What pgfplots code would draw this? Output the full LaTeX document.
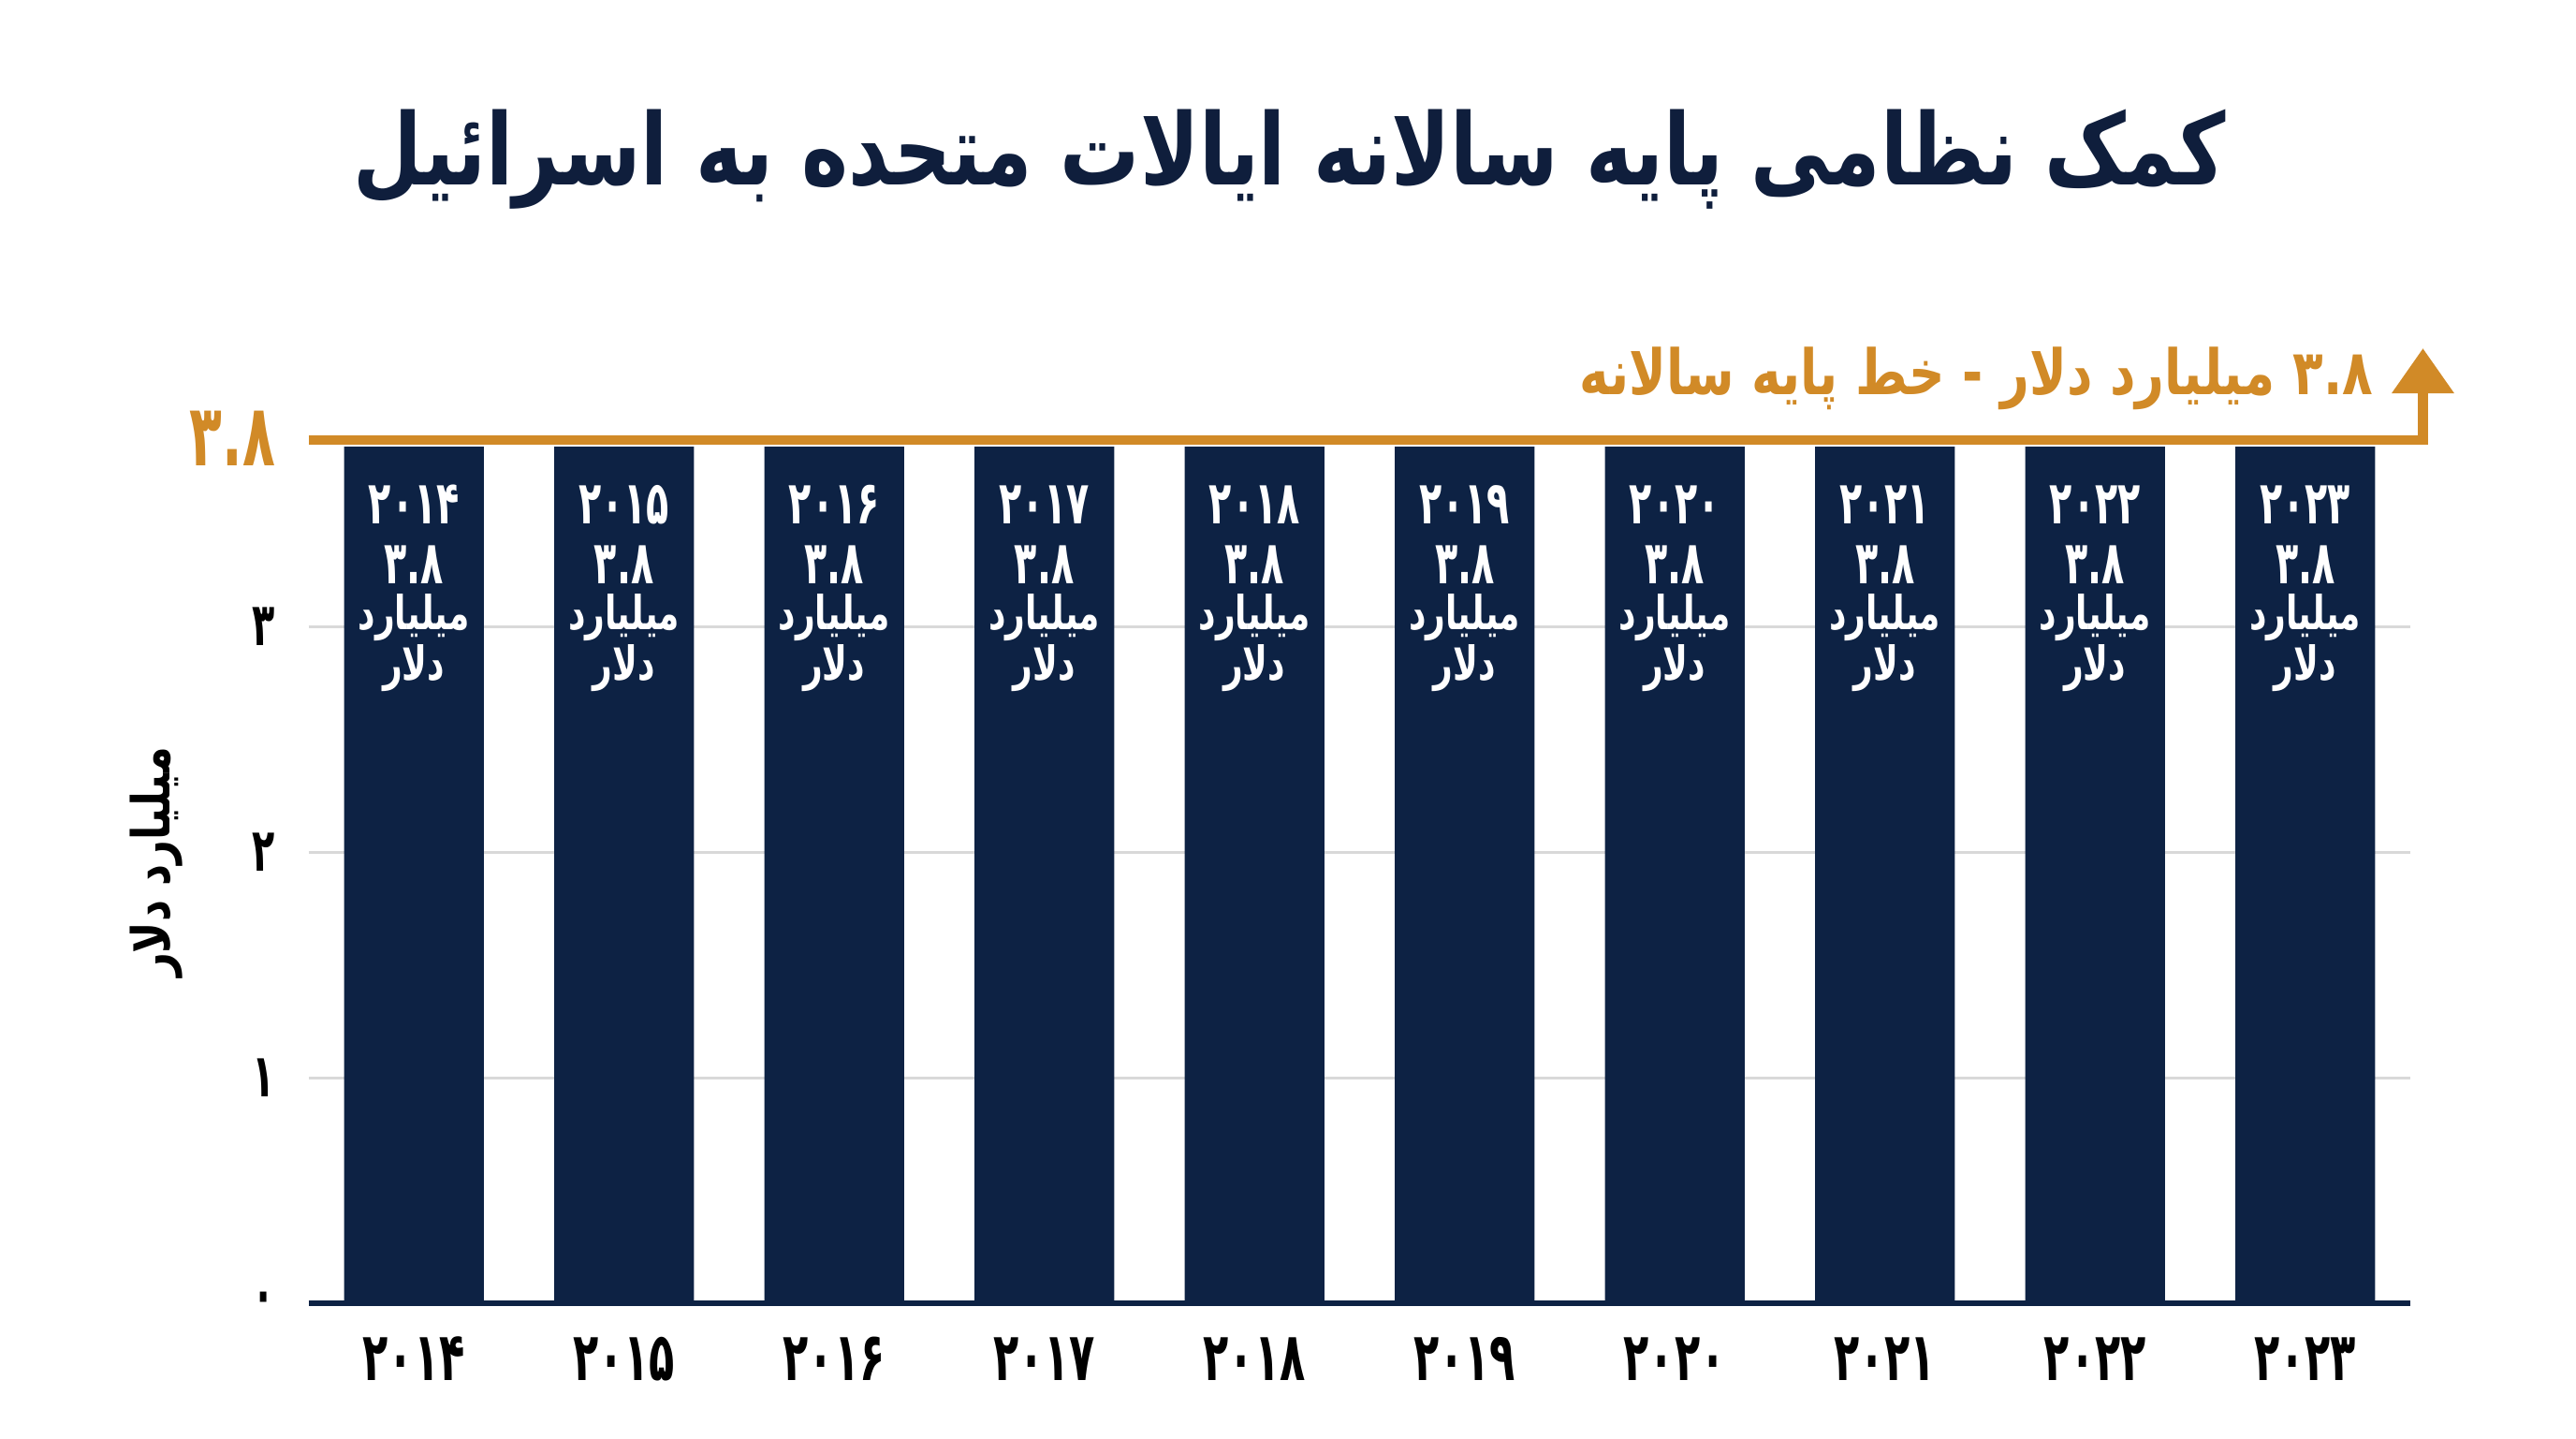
\documentclass[border=0pt]{standalone}
\usepackage{fontspec}
\usepackage{pgfplots}
\pgfplotsset{compat=1.18}
\usetikzlibrary{arrows.meta}
\TeXXeTstate=1
\newfontfamily\fa[Script=Arabic,FakeStretch=0.8]{DejaVu Sans}
\newfontfamily\fanarrow[Script=Arabic,FakeStretch=0.72]{DejaVu Sans}
\newfontfamily\fanum[Script=Arabic,FakeStretch=0.62]{DejaVu Sans}
\definecolor{navy}{HTML}{0D2244}
\definecolor{gold}{HTML}{D18A27}
\definecolor{titlenavy}{HTML}{0F1E3C}
\newcommand{\R}[1]{\beginR #1\endR}
\newcommand{\barnum}{\fanum\bfseries\fontsize{16}{16}\selectfont}
\newcommand{\bartxt}{\fanarrow\bfseries\fontsize{12.5}{12.5}\selectfont}
\newcommand{\barlab}[2]{%
  \node[white, font=\barnum, anchor=base, inner sep=0pt] at ([yshift=-20.5pt]axis cs:#1,3.8) {#2};
  \node[white, font=\barnum, anchor=base, inner sep=0pt] at ([yshift=-36.5pt]axis cs:#1,3.8) {۳.۸};
  \node[white, font=\bartxt, anchor=base, inner sep=0pt] at ([yshift=-48.75pt]axis cs:#1,3.8) {\R{میلیارد}};
  \node[white, font=\bartxt, anchor=base, inner sep=0pt] at ([yshift=-62.25pt]axis cs:#1,3.8) {\R{دلار}};}
\begin{document}
\begin{tikzpicture}
\useasboundingbox (-82.5pt,-36pt) rectangle (605.5pt,348pt);
\begin{axis}[
  at={(0pt,0pt)}, anchor=south west,
  width=561.25pt, height=228.75pt, scale only axis,
  xmin=-0.5, xmax=9.5, ymin=0, ymax=3.8,
  axis x line*=bottom, axis y line*=left,
  y axis line style={draw=none},
  x axis line style={draw=navy, line width=1.3pt},
  major tick length=0pt,
  xtick={0,1,2,3,4,5,6,7,8,9},
  xticklabels={۲۰۱۴,۲۰۱۵,۲۰۱۶,۲۰۱۷,۲۰۱۸,۲۰۱۹,۲۰۲۰,۲۰۲۱,۲۰۲۲,۲۰۲۳},
  ytick={0,1,2,3},
  yticklabels={۰,۱,۲,۳},
  ymajorgrids,
  grid style={draw=black!15, line width=0.8pt},
  xticklabel style={font=\fanum\bfseries\fontsize{18}{18}\selectfont, anchor=base, inner sep=0pt, yshift=-20.5pt, text=black},
  yticklabel style={font=\fanum\bfseries\fontsize{16}{16}\selectfont, anchor=east, inner sep=0pt, xshift=-8.75pt, text=black},
  clip=false,
]
\addplot[ybar, bar width=37.3pt, fill=navy, draw=none] coordinates {
  (0,3.8) (1,3.8) (2,3.8) (3,3.8) (4,3.8) (5,3.8) (6,3.8) (7,3.8) (8,3.8) (9,3.8)};
\draw[gold, line width=2.6pt, -{Triangle[length=12pt,width=16pt]}]
  ([yshift=1.75pt]axis cs:-0.5,3.8) -- ([yshift=1.75pt]axis cs:9.56,3.8) -- (axis cs:9.56,4.236);
\barlab{0}{۲۰۱۴}
\barlab{1}{۲۰۱۵}
\barlab{2}{۲۰۱۶}
\barlab{3}{۲۰۱۷}
\barlab{4}{۲۰۱۸}
\barlab{5}{۲۰۱۹}
\barlab{6}{۲۰۲۰}
\barlab{7}{۲۰۲۱}
\barlab{8}{۲۰۲۲}
\barlab{9}{۲۰۲۳}
\end{axis}
\node[anchor=base, inner sep=0pt, text=titlenavy, font=\fa\bfseries\fontsize{26.5}{26.5}\selectfont] at (262pt,298.75pt)
  {\R{کمک نظامی پایه سالانه ایالات متحده به اسرائیل}};
\node[anchor=base east, inner sep=0pt, text=gold, font=\fanum\bfseries\fontsize{23}{23}\selectfont] at (-8.75pt,223.75pt) {۳.۸};
\node[anchor=base east, inner sep=0pt, text=gold, font=\fa\bfseries\fontsize{16.7}{16.7}\selectfont] at (551.5pt,242.75pt)
  {\R{\beginL ۳.۸\endL{} میلیارد دلار - خط پایه سالانه}};
\node[rotate=90, inner sep=0pt, text=black, font=\fa\bfseries\fontsize{14}{14}\selectfont] at (-40.75pt,117.75pt)
  {\R{میلیارد دلار}};
\end{tikzpicture}
\end{document}
